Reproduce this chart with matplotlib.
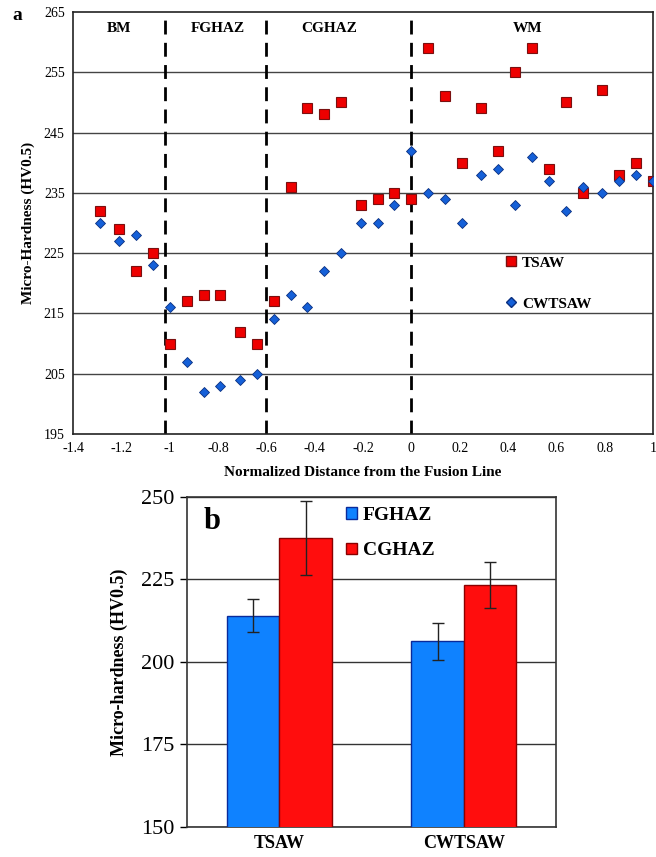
import matplotlib
matplotlib.use("Agg")
import matplotlib.pyplot as plt
from matplotlib.patches import Patch
from matplotlib.lines import Line2D

plt.rcParams['font.family'] = ['Liberation Serif', 'DejaVu Serif']

# (a) micro-hardness profile
dist = [-1.29, -1.21, -1.14, -1.07, -1.0, -0.93, -0.86, -0.79, -0.71, -0.64, -0.57,
        -0.5, -0.43, -0.36, -0.29, -0.21, -0.14, -0.07, 0.0, 0.07, 0.14, 0.21, 0.29,
        0.36, 0.43, 0.5, 0.57, 0.64, 0.71, 0.79, 0.86, 0.93, 1.0]
tsaw = [232, 229, 222, 225, 210, 217, 218, 218, 212, 210, 217,
        236, 249, 248, 250, 233, 234, 235, 234, 259, 251, 240, 249,
        242, 255, 259, 239, 250, 235, 252, 238, 240, 237]
cwtsaw = [230, 227, 228, 223, 216, 207, 202, 203, 204, 205, 214,
          218, 216, 222, 225, 230, 230, 233, 242, 235, 234, 230, 238,
          239, 233, 241, 237, 232, 236, 235, 237, 238, 237]
zone_bounds = [-1.02, -0.6, 0.0]
zone_names = ['BM', 'FGHAZ', 'CGHAZ', 'WM']
zone_label_x = [-1.21, -0.80, -0.34, 0.48]

# (b) average hardness in the HAZ
welds = ['TSAW', 'CWTSAW']
fghaz = [214.0, 206.2]
fghaz_err = [5.0, 5.5]
cghaz = [237.5, 223.2]
cghaz_err = [11.2, 7.0]

W, H = 656, 857
fig = plt.figure(figsize=(W / 100, H / 100), dpi=100)

# ---- top chart ----
ax = fig.add_axes([73 / W, 1 - 434 / H, 580 / W, 422 / H])
ax.set_xlim(-1.4, 1.0)
ax.set_ylim(195, 265)
ax.set_yticks(range(195, 266, 10))
ax.set_xticks([-1.4, -1.2, -1.0, -0.8, -0.6, -0.4, -0.2, 0, 0.2, 0.4, 0.6, 0.8, 1.0])
ax.set_xticklabels(['-1.4', '-1.2', '-1', '-0.8', '-0.6', '-0.4', '-0.2', '0',
                    '0.2', '0.4', '0.6', '0.8', '1'])
ax.tick_params(length=0, labelsize=10, pad=6)
for v in range(205, 260, 10):
    ax.axhline(v, color='#444444', lw=1, zorder=1)
for b in zone_bounds:
    ax.axvline(b, color='black', lw=2, ls=(0, (5, 3)), zorder=2)
for nm, zx in zip(zone_names, zone_label_x):
    ax.text(zx, 262.3, nm, ha='center', va='center', fontsize=11, fontweight='bold')

ax.plot(dist, tsaw, ls='none', marker='s', ms=7, mfc='#ee0000', mec='#7a1010',
        mew=0.8, zorder=4, clip_on=True)
ax.plot(dist, cwtsaw, ls='none', marker='D', ms=5, mfc='#1560d8', mec='#0a2f80',
        mew=0.6, zorder=5, clip_on=True)
for s in ax.spines.values():
    s.set_color('#222222')
    s.set_linewidth(1.2)

ax.set_xlabel('Normalized Distance from the Fusion Line', fontsize=11,
              fontweight='bold', labelpad=8)
ax.set_ylabel('Micro-Hardness (HV0.5)', fontsize=11, fontweight='bold', labelpad=6)

handles = [Line2D([], [], ls='none', marker='s', ms=7, mfc='#ee0000', mec='#7a1010'),
           Line2D([], [], ls='none', marker='D', ms=5, mfc='#1560d8', mec='#0a2f80')]
leg = ax.legend(handles, ['TSAW', 'CWTSAW'], loc='center left',
                bbox_to_anchor=(0.732, 0.357), frameon=False, handlelength=0.8,
                handletextpad=0.3, labelspacing=1.8, borderpad=0,
                prop={'weight': 'bold', 'size': 11})

fig.text(12 / W, 1 - 15 / H, 'a', fontsize=14, fontweight='bold', ha='left', va='center')

# ---- bottom chart ----
bx = fig.add_axes([187.3 / W, 1 - 827 / H, 368.7 / W, 330.3 / H])
pos = list(range(len(welds)))
bw = 0.284
bx.bar([p - bw / 2 for p in pos], fghaz, bw, yerr=fghaz_err, color='#0f82ff',
       edgecolor='#0a2a9a', lw=1, capsize=4, error_kw={'elinewidth': 1, 'ecolor': '#222222'},
       zorder=3, label='FGHAZ')
bx.bar([p + bw / 2 for p in pos], cghaz, bw, yerr=cghaz_err, color='#ff0d0d',
       edgecolor='#8a0000', lw=1, capsize=4, error_kw={'elinewidth': 1, 'ecolor': '#222222'},
       zorder=3, label='CGHAZ')
bx.set_xlim(-0.5, 1.5)
bx.set_ylim(150, 250)
bx.set_yticks([150, 175, 200, 225, 250])
bx.set_xticks(pos)
bx.set_xticklabels(welds, fontweight='bold', fontsize=13)
bx.tick_params(axis='x', length=0, pad=6)
bx.tick_params(axis='y', length=5, width=1, labelsize=16, pad=4)
bx.yaxis.grid(True, color='#333333', lw=1)
bx.set_axisbelow(True)
for s in bx.spines.values():
    s.set_color('#333333')
    s.set_linewidth(1.2)
bx.set_ylabel('Micro-hardness (HV0.5)', fontsize=13, fontweight='bold', labelpad=10)
bx.text(0.045, 0.925, 'b', transform=bx.transAxes, fontsize=22, fontweight='bold',
        ha='left', va='center')
bhandles = [Patch(facecolor='#0f82ff', edgecolor='#0a2a9a'),
            Patch(facecolor='#ff0d0d', edgecolor='#8a0000')]
bx.legend(bhandles, ['FGHAZ', 'CGHAZ'], loc='center left', bbox_to_anchor=(0.405, 0.89),
          frameon=False, handlelength=0.55, handleheight=0.55, handletextpad=0.3,
          labelspacing=0.95, borderpad=0, prop={'weight': 'bold', 'size': 14})

fig.savefig('out.png', dpi=100)
